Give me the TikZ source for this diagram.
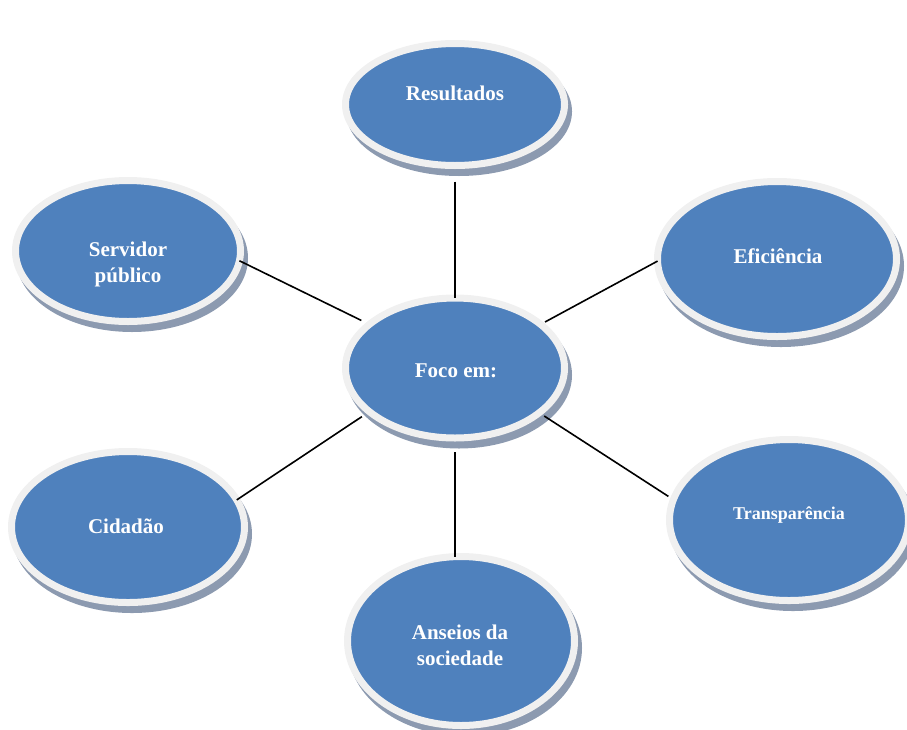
\documentclass[tikz,border=0pt]{standalone}
\usepackage{fontspec}
\setmainfont{Liberation Serif}
\usetikzlibrary{shapes.geometric}
\definecolor{bubblefill}{HTML}{4F81BD}
\definecolor{ringc}{HTML}{F0F0F0}
\definecolor{shadowc}{HTML}{8C9AB0}
\tikzset{
  bubble/.style={ellipse, fill=bubblefill, draw=ringc, line width=7pt,
    inner sep=0pt, outer sep=0pt,
    preaction={draw=shadowc, fill=shadowc, transform canvas={shift={(4pt,-7pt)}}}},
  lbl/.style={text=white, font=\bfseries\fontsize{21}{26}\selectfont, align=center},
  smalllbl/.style={lbl, font=\bfseries\fontsize{18}{22}\selectfont},
  link/.style={line width=1.6pt, black}
}
\begin{document}
\begin{tikzpicture}[x=1pt,y=-1pt]
\useasboundingbox (0,0) rectangle (907,729);

% bubbles (path radius = inner blue radius + half ring width)
\node[bubble, minimum width=219pt, minimum height=122pt] (res)    at (455,104.5) {};
\node[bubble, minimum width=219pt, minimum height=140pt] (foco)   at (455,368)   {};
\node[bubble, minimum width=225pt, minimum height=141pt] (serv)   at (128,251)   {};
\node[bubble, minimum width=239pt, minimum height=155pt] (efic)   at (777,259)   {};
\node[bubble, minimum width=233pt, minimum height=151pt] (cid)    at (128,527)   {};
\node[bubble, minimum width=227pt, minimum height=169pt] (ans)    at (461,641)   {};
\node[bubble, minimum width=239pt, minimum height=161pt] (transp) at (789,520)   {};

% labels
\node[lbl] (res-t)    at (455,93)  {Resultados};
\node[lbl] (foco-t)   at (456,371) {Foco em:};
\node[lbl] (serv-t)   at (128,264) {Servidor\\público};
\node[lbl] (efic-t)   at (778,256) {Eficiência};
\node[lbl] (cid-t)    at (126,526) {Cidadão};
\node[smalllbl] (transp-t) at (789,515) {Transparência};
\node[lbl] (ans-t)    at (460,645) {Anseios da\\sociedade};

% connectors
\draw[link, shorten <=16pt] (res.south) -- (foco.north);
\draw[link, shorten <=14pt] (foco.south) -- (foco.south |- ans.north);
\draw[link, shorten >=9pt] (serv.-5.6) -- (foco.153.4);
\draw[link, shorten <=5pt] (foco.27.8) -- (efic.181.4);
\draw[link, shorten >=9pt] (cid.14.4) -- (foco.207);
\draw[link, shorten <=6pt, shorten >=6pt] (foco.-28.3) -- (transp.170.7);
\end{tikzpicture}
\end{document}
